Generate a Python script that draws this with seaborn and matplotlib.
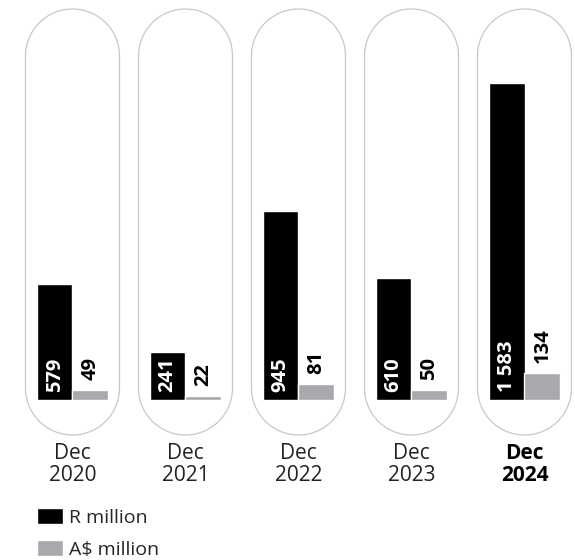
import numpy as np
import pandas as pd
import matplotlib.pyplot as plt
import seaborn as sns
from matplotlib.patches import Polygon, Patch

# ---------------------------------------------------------------
# Dados
# ---------------------------------------------------------------
periods = ["Dec\n2020", "Dec\n2021", "Dec\n2022", "Dec\n2023", "Dec\n2024"]
r_million = [579, 241, 945, 610, 1583]
aud_million = [49, 22, 81, 50, 134]
series = ["R million", "A$ million"]

df = pd.DataFrame({
    "period": periods * 2,
    "value": r_million + aud_million,
    "unit": [series[0]] * len(periods) + [series[1]] * len(periods),
})

BLACK = "#000000"
GREY = "#a7a9ac"
PILL = "#c8c8c8"

sns.set_theme(style="white")
plt.rcParams["font.family"] = ["Open Sans", "DejaVu Sans"]

W, H = 575, 560
fig = plt.figure(figsize=(W / 100, H / 100), dpi=100)
ax = fig.add_axes([0, 160 / H, 1, 400 / H])

sns.barplot(data=df, x="period", y="value", hue="unit", palette=[BLACK, GREY],
            width=0.63, gap=0, saturation=1, legend=False, ax=ax)

xlim = (-72.5 / 113, (W - 72.5) / 113)
ylim = (0, 2000)
ax.set_xlim(*xlim)
ax.set_ylim(*ylim)

# pills (stadium shape) round each group, circular in pixel space
px_x = W / (xlim[1] - xlim[0])
px_y = 400 / (ylim[1] - ylim[0])
rx = 47 / px_x
ry = 47 / px_y
y_top, y_bot = 1955, -175
t = np.linspace(0, np.pi, 80)
for i in range(len(periods)):
    top = np.column_stack([i + rx * np.cos(t), y_top - ry + ry * np.sin(t)])
    bot = np.column_stack([i - rx * np.cos(t), y_bot + ry - ry * np.sin(t)])
    ax.add_patch(Polygon(np.vstack([top, bot]), closed=True, fill=False,
                         ec=PILL, lw=0.9, clip_on=False, zorder=0))

# rótulos dos valores
fmt = lambda v: f"{v:,}".replace(",", " ")
for bar, v in zip(ax.containers[0], r_million):
    ax.text(bar.get_x() + bar.get_width() / 2, 40, fmt(v), rotation=90,
            ha="center", va="bottom", color="white", fontsize=14.5, fontweight="bold")
for bar, v in zip(ax.containers[1], aud_million):
    ax.text(bar.get_x() + bar.get_width() / 2, v + 50, fmt(v), rotation=90,
            ha="center", va="bottom", color=BLACK, fontsize=14.5, fontweight="bold")

ax.set_xticks(range(len(periods)))
ax.set_xticklabels(periods, fontsize=15, color="#222222", linespacing=1.05)
ax.get_xticklabels()[-1].set_fontweight("bold")
ax.get_xticklabels()[-1].set_color(BLACK)
ax.tick_params(axis="x", length=0, pad=31)
ax.set_yticks([])
ax.set_xlabel("")
ax.set_ylabel("")
sns.despine(ax=ax, left=True, bottom=True)

fig.legend(handles=[Patch(fc=BLACK), Patch(fc=GREY)], labels=series,
           loc="upper left", bbox_to_anchor=(37 / W, 1 - 508 / H),
           frameon=False, fontsize=14, handlelength=1.35, handleheight=0.87,
           handletextpad=0.3, labelspacing=0.7, borderpad=0, borderaxespad=0)

fig.savefig("out.png", dpi=100)
